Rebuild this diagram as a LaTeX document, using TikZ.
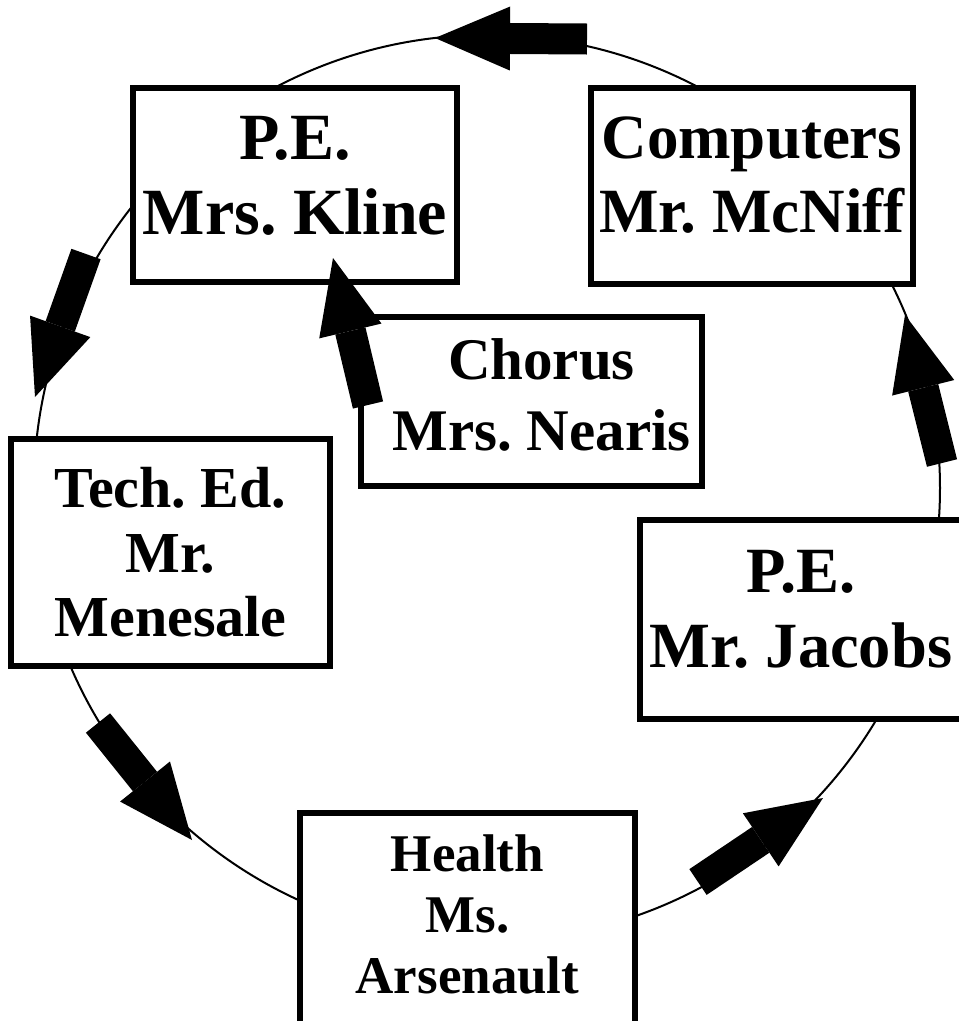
\documentclass[tikz,border=0pt]{standalone}
\usepackage{fontspec}
\setmainfont{Liberation Serif}
\usetikzlibrary{arrows.meta}
\frenchspacing

\tikzset{
  room/.style={draw, rectangle, fill=white, line width=6pt, align=center, inner sep=0pt},
  turn/.style={line width=31pt, -{Triangle[length=75pt, width=64pt, line width=0pt]}},
}

\begin{document}
\begin{tikzpicture}[x=1pt, y=-1pt]
  \path[use as bounding box, clip] (0,0) rectangle (959,1021);

  % the ring
  \draw[line width=2pt] (487,488) circle [radius=453pt];

  % rooms
  \node (kline) [room, minimum width=324pt, minimum height=194pt, text depth=20pt, font=\bfseries\fontsize{66}{75}\selectfont] at (295,185) {P.E.\\Mrs. Kline};
  \node (mcniff) [room, minimum width=322pt, minimum height=196pt, text depth=22pt, font=\bfseries\fontsize{63}{74}\selectfont] at (752,186) {Computers\\Mr. McNiff};
  \node (nearis) [room, minimum width=341pt, minimum height=169pt, text depth=14pt, font=\bfseries\fontsize{59}{71}\selectfont] at (531.5,401.5) {\hspace*{20pt}Chorus\\\hspace*{20pt}Mrs. Nearis};
  \node (menesale) [room, minimum width=319pt, minimum height=227pt, font=\bfseries\fontsize{58}{64.5}\selectfont] at (170.5,552.5) {Tech. Ed.\\Mr.\\Menesale};
  \node (jacobs) [room, minimum width=322pt, minimum height=199pt, text depth=22pt, font=\bfseries\fontsize{64.5}{75}\selectfont] at (801,619.5) {P.E.\\Mr. Jacobs};
  \node (arsenault) [room, minimum width=335pt, minimum height=232pt, text depth=30pt, font=\bfseries\fontsize{53}{61}\selectfont] at (467.5,929) {Health\\Ms.\\Arsenault};

  % ends of the turn arrows
  \coordinate (mcniff-out) at (587,39);
  \coordinate (kline-in) at (435,38);
  \coordinate (kline-out) at (86,254);
  \coordinate (menesale-in) at (35,397);
  \coordinate (menesale-out) at (98,723);
  \coordinate (arsenault-in) at (192,840);
  \coordinate (arsenault-out) at (698,882);
  \coordinate (jacobs-in) at (823,798);
  \coordinate (jacobs-out) at (942,463);
  \coordinate (mcniff-in) at (905,315);
  \coordinate (nearis-out) at (368,405);
  \coordinate (nearis-in) at (333,258);

  \draw[turn] (mcniff-out) -- (kline-in);
  \draw[turn] (kline-out) -- (menesale-in);
  \draw[turn] (menesale-out) -- (arsenault-in);
  \draw[turn] (arsenault-out) -- (jacobs-in);
  \draw[turn] (jacobs-out) -- (mcniff-in);
  \draw[turn] (nearis-out) -- (nearis-in);
\end{tikzpicture}
\end{document}
